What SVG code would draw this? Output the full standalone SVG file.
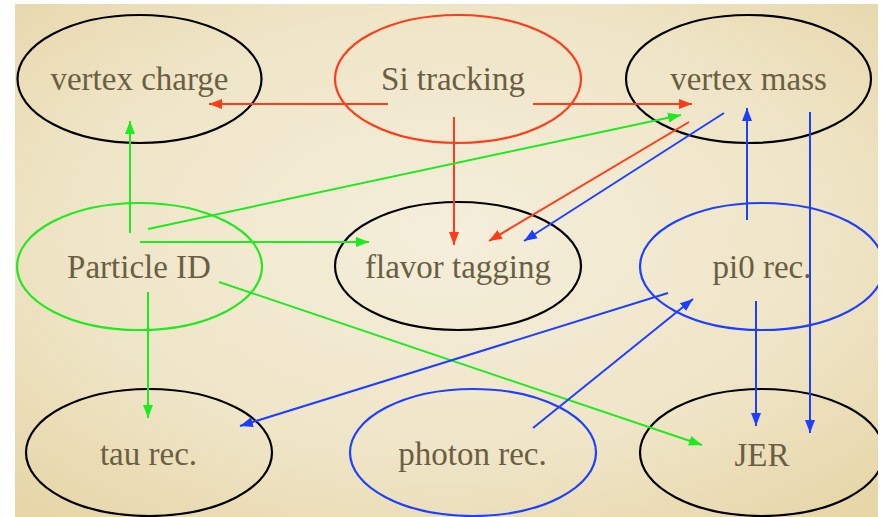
<svg xmlns="http://www.w3.org/2000/svg" width="883" height="517" viewBox="0 0 883 517">
<defs>
<radialGradient id="bg" cx="0.5" cy="0.45" r="0.72">
<stop offset="0" stop-color="#f4eedb"/>
<stop offset="0.6" stop-color="#efe5c7"/>
<stop offset="1" stop-color="#e6d6a8"/>
</radialGradient>
<marker id="ar" markerUnits="userSpaceOnUse" markerWidth="14" markerHeight="12" viewBox="0 0 14 12" refX="13" refY="6" orient="auto"><path d="M0,1 L13,6 L0,11 Z" fill="#ff3b1a"/></marker>
<marker id="ag" markerUnits="userSpaceOnUse" markerWidth="14" markerHeight="12" viewBox="0 0 14 12" refX="13" refY="6" orient="auto"><path d="M0,1 L13,6 L0,11 Z" fill="#1eea1e"/></marker>
<marker id="ab" markerUnits="userSpaceOnUse" markerWidth="14" markerHeight="12" viewBox="0 0 14 12" refX="13" refY="6" orient="auto"><path d="M0,1 L13,6 L0,11 Z" fill="#1f3fff"/></marker>
</defs>
<style>
.n{fill:none;stroke-width:2.2}
.k{stroke:#000}
.r{stroke:#ff3b1a}
.g{stroke:#1eea1e}
.b{stroke:#1f3fff}
text{font-family:"Liberation Serif","Times New Roman",serif;font-size:33px;fill:#6b5f43;text-anchor:middle}
#edges line{stroke-width:2}
#edges .r{marker-end:url(#ar)}
#edges .g{marker-end:url(#ag)}
#edges .b{marker-end:url(#ab)}
</style>
<rect x="0" y="0" width="883" height="517" fill="#ffffff"/>
<rect x="15" y="4" width="863" height="513" fill="url(#bg)"/>
<g id="vertex-charge"><ellipse class="n k" cx="139.5" cy="79" rx="122" ry="64"/><text x="139.5" y="90">vertex charge</text></g>
<g id="si-tracking"><ellipse class="n r" cx="458" cy="79" rx="123" ry="64"/><text x="453" y="90">Si tracking</text></g>
<g id="vertex-mass"><ellipse class="n k" cx="748.5" cy="79" rx="122.5" ry="64"/><text x="748.5" y="90">vertex mass</text></g>
<g id="particle-id"><ellipse class="n g" cx="139.5" cy="266.5" rx="122.5" ry="63.5"/><text x="139" y="278">Particle ID</text></g>
<g id="flavor-tagging"><ellipse class="n k" cx="458" cy="266" rx="123" ry="64"/><text x="458" y="278">flavor tagging</text></g>
<g id="pi0-rec"><ellipse class="n b" cx="762" cy="266.5" rx="122" ry="63.5"/><text x="762" y="278">pi0 rec.</text></g>
<g id="tau-rec"><ellipse class="n k" cx="149" cy="452.5" rx="123" ry="63.5"/><text x="148.5" y="465">tau rec.</text></g>
<g id="photon-rec"><ellipse class="n b" cx="473" cy="452.5" rx="123" ry="63.5"/><text x="472.5" y="465">photon rec.</text></g>
<g id="jer"><ellipse class="n k" cx="762" cy="452.5" rx="122" ry="63.5"/><text x="762" y="466">JER</text></g>
<rect x="878" y="0" width="5" height="517" fill="#ffffff"/>
<g id="edges">
<line class="r" x1="388" y1="104" x2="209" y2="104"/>
<line class="r" x1="533" y1="104" x2="692" y2="104"/>
<line class="r" x1="454" y1="117" x2="454" y2="245"/>
<line class="r" x1="689" y1="122" x2="489" y2="241"/>
<line class="g" x1="130" y1="233" x2="130" y2="121"/>
<line class="g" x1="148" y1="229" x2="681" y2="115"/>
<line class="g" x1="140" y1="242" x2="369" y2="242"/>
<line class="g" x1="148" y1="292" x2="148" y2="418"/>
<line class="g" x1="219" y1="282" x2="702" y2="445"/>
<line class="b" x1="724" y1="113" x2="524" y2="241"/>
<line class="b" x1="747" y1="220" x2="747" y2="108"/>
<line class="b" x1="810" y1="112" x2="810" y2="433"/>
<line class="b" x1="668" y1="293" x2="240" y2="426"/>
<line class="b" x1="533" y1="428" x2="693" y2="299"/>
<line class="b" x1="756" y1="301" x2="756" y2="426"/>
</g>
</svg>
